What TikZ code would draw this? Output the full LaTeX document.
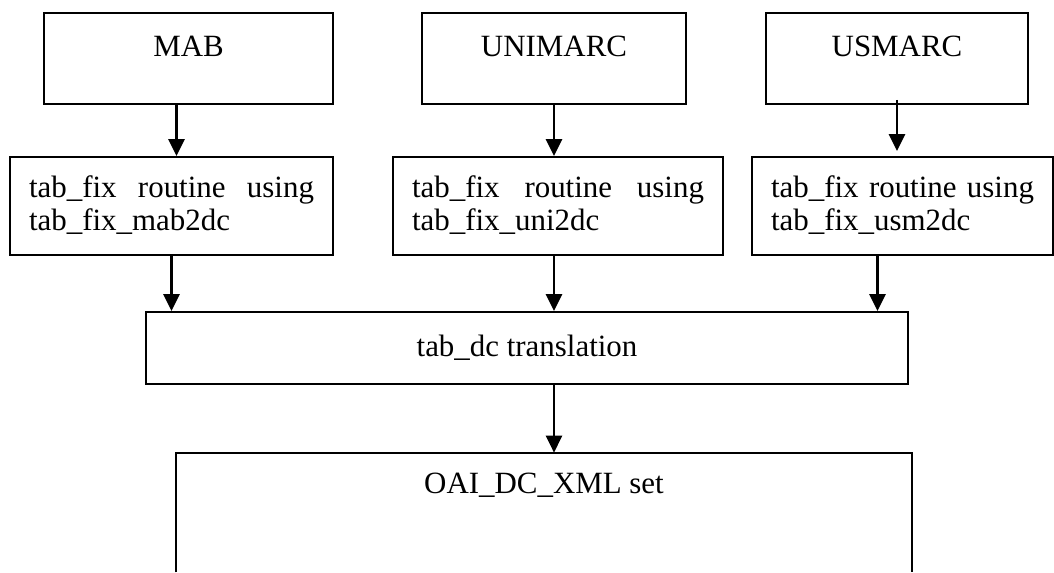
\documentclass[tikz,border=0pt]{standalone}
\usepackage{fontspec}
\setmainfont{Liberation Serif}
\usetikzlibrary{arrows.meta}

\begin{document}
\begin{tikzpicture}[x=0.02cm, y=-0.02cm,
    every node/.style={font=\fontsize{17.6}{18.8}\selectfont},
    format/.style={draw, line width=1.1pt, inner xsep=0pt, inner ysep=0pt, text height=0.86cm, text depth=0.96cm},
    routine/.style={draw, line width=1.1pt, inner xsep=0.38cm, inner ysep=0pt, align=justify, text height=0.8cm, text depth=1.16cm},
    flow/.style={-{Triangle[length=0.34cm,width=0.32cm]}, line width=1.5pt}]
            \useasboundingbox (0,0) rectangle (1054,572);
            % Record formats
            \node[format, minimum width=5.78cm] (mab) at (188.5,58.5) {MAB};
            \node[format, minimum width=5.28cm] (unimarc) at (554,58.5) {UNIMARC};
            \node[format, minimum width=5.24cm] (usmarc) at (897,58.5) {USMARC};
            
            % Fix routines
            \node[routine, text width=5.70cm] (fixmab) at (171.5,206) {tab\_fix routine using tab\_fix\_mab2dc};
            \node[routine, text width=5.84cm] (fixuni) at (558,206) {tab\_fix routine using tab\_fix\_uni2dc};
            \node[routine, text width=5.26cm] (fixusm) at (902.5,206) {tab\_fix routine using tab\_fix\_usm2dc};
            
            % Translation and output set
            \node[draw, line width=1.1pt, minimum width=15.24cm, minimum height=1.44cm] (dc) at (527,348) {tab\_dc translation};
            \node[inner ysep=0pt, text height=0.8cm, text depth=1.58cm, minimum width=14.72cm] (oai) at (544,512.5) {OAI\_DC\_XML set};
            \draw[line width=1.1pt] (oai.south west) -- (oai.north west) -- (oai.north east) -- (oai.south east);
            
            \draw[flow] ([xshift=0.1cm]fixmab.north |- mab.south) -- ([xshift=0.1cm]fixmab.north);
            \draw[flow] (unimarc.south) -- (unimarc.south |- fixuni.north);
            \draw[flow] ([yshift=0.1cm]usmarc.south) -- ([yshift=0.1cm]usmarc.south |- fixusm.north);
            
            \draw[flow] (fixmab.south) -- (fixmab.south |- dc.north);
            \draw[flow] (unimarc |- fixuni.south) -- (unimarc |- dc.north);
            \draw[flow] ([xshift=-0.5cm]fixusm.south) -- ([xshift=-0.5cm]fixusm.south |- dc.north);
            
            \draw[flow] (unimarc |- dc.south) -- (unimarc |- oai.north);
        \end{tikzpicture}
\end{document}
